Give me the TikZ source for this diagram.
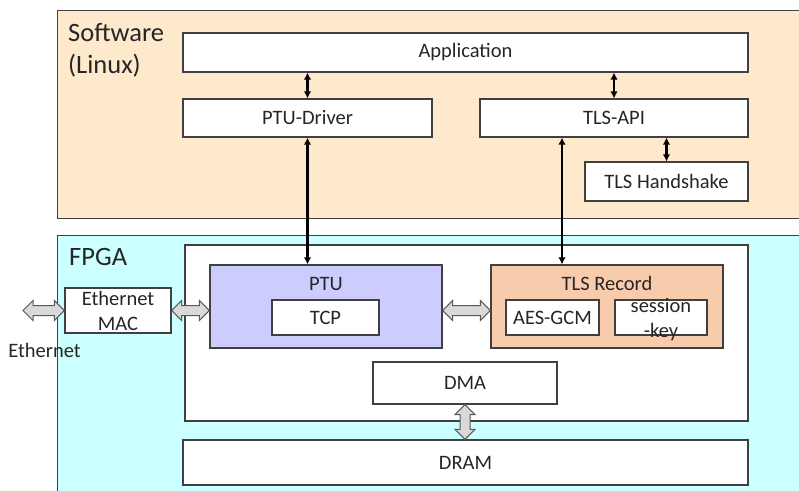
\documentclass[tikz,border=0pt]{standalone}
\usepackage{fontspec}
\setmainfont{Carlito}
\usetikzlibrary{arrows.meta,calc}
\definecolor{swfill}{HTML}{FEE9CC}
\definecolor{fpgafill}{HTML}{CCFFFF}
\definecolor{ptufill}{HTML}{CCCCFF}
\definecolor{tlsfill}{HTML}{F9CBAD}
\definecolor{boxline}{HTML}{404040}
\definecolor{fatfill}{HTML}{D9D9D9}
\definecolor{fatline}{HTML}{595959}
\definecolor{txt}{HTML}{262626}
\newcommand{\fatH}[2]{%
  \draw[fat] let \p1=(#1), \p2=(#2) in
   (\x1,\y1) -- (\x1+10pt,\y1+10pt) -- (\x1+10pt,\y1+5pt) -- (\x2-10pt,\y2+5pt)
   -- (\x2-10pt,\y2+10pt) -- (\x2,\y2) -- (\x2-10pt,\y2-10pt) -- (\x2-10pt,\y2-5pt)
   -- (\x1+10pt,\y1-5pt) -- (\x1+10pt,\y1-10pt) -- cycle;}
\newcommand{\fatV}[2]{%
  \draw[fat] let \p1=(#1), \p2=(#2) in
   (\x1,\y1) -- (\x1+10pt,\y1-10pt) -- (\x1+5pt,\y1-10pt) -- (\x2+5pt,\y2+10pt)
   -- (\x2+10pt,\y2+10pt) -- (\x2,\y2) -- (\x2-10pt,\y2+10pt) -- (\x2-5pt,\y2+10pt)
   -- (\x1-5pt,\y1-10pt) -- (\x1-10pt,\y1-10pt) -- cycle;}
\begin{document}
\begin{tikzpicture}[x=1pt,y=-1pt,
  every node/.style={text=txt},
  box/.style={draw=boxline, line width=1.2pt, fill=white, inner sep=0pt,
    font=\fontsize{20.5}{25}\selectfont, align=center},
  zone/.style={draw=boxline, line width=1.2pt, inner sep=0pt, anchor=north west},
  bigtxt/.style={font=\fontsize{26.5}{32}\selectfont, inner sep=0pt, align=left},
  midtxt/.style={font=\fontsize{20.5}{25}\selectfont, inner sep=0pt, align=center},
  conn/.style={line width=2.1pt, {Latex[length=7pt,width=7.5pt]}-{Latex[length=7pt,width=7.5pt]}},
  fat/.style={draw=fatline, fill=fatfill, line width=1pt, line join=miter}
]
\useasboundingbox (0,0) rectangle (799,490);
\fill[white] (0,0) rectangle (799,490);

% zones
\node[zone, fill=swfill, minimum width=770, minimum height=208] (sw) at (57,10) {};
\node[zone, fill=fpgafill, minimum width=770, minimum height=280] (fpga) at (57,235) {};
\node[bigtxt, anchor=base west] (swlbl) at (68,41) {Software};
\node[bigtxt, anchor=base west] (swlbl2) at (68,73) {(Linux)};
\node[bigtxt, anchor=base west] (fpgalbl) at (69,265) {FPGA};

% software boxes
\node[box, minimum width=565, minimum height=39] (app) at (465.5,52.5) {Application};
\node[box, minimum width=249, minimum height=38] (ptud) at (307.5,118) {PTU-Driver};
\node[box, minimum width=268, minimum height=38] (tlsapi) at (614,118) {TLS-API};
\node[box, minimum width=163, minimum height=39] (hs) at (666.5,181.5) {TLS Handshake};

% fpga boxes
\node[box, minimum width=563, minimum height=176] (inner) at (466.5,333) {};
\node[box, fill=ptufill, minimum width=232, minimum height=83] (ptu) at (326,306.5) {};
\node[midtxt, anchor=base] (ptulbl) at ($(ptu.north)+(0,26)$) {PTU};
\node[box, minimum width=107, minimum height=35] (tcp) at (325.5,317.5) {TCP};
\node[box, fill=tlsfill, minimum width=232, minimum height=83] (tlsrec) at (607,306.5) {};
\node[midtxt, anchor=base] (tlslbl) at ($(tlsrec.north)+(0,26)$) {TLS Record};
\node[box, minimum width=93, minimum height=35] (aes) at (552.5,317.5) {AES-GCM};
\node[box, minimum width=92, minimum height=35] (skey) at (661,317.5) {};
\node[midtxt] (skeytxt) at (661,320) {session\\-key};
\node[box, minimum width=184, minimum height=42] (dma) at (465,383) {DMA};
\node[box, minimum width=565, minimum height=45] (dram) at (465.5,462.5) {DRAM};
\node[box, minimum width=106, minimum height=45] (mac) at (118,310.5) {Ethernet\\MAC};
\node[midtxt, anchor=base] (ethlbl) at (44.5,357) {Ethernet};
\coordinate (ethL) at (23,310.5);
\coordinate (xa) at (562,0);

% thin connectors
\draw[conn] (app.south -| ptud.north) -- (ptud.north);
\draw[conn] (app.south -| tlsapi.north) -- (tlsapi.north);
\draw[conn] (tlsapi.south -| hs.north) -- (hs.north);
\draw[conn] (ptud.south) -- (ptud.south |- ptu.north);
\draw[conn] (tlsapi.south -| xa) -- (tlsrec.north -| xa);

% fat connectors
\fatH{ethL}{ethL -| mac.west}
\fatH{mac.east}{mac.east -| ptu.west}
\fatH{ptu.east |- mac.east}{mac.east -| tlsrec.west}
\fatV{dma.south}{dma.south |- dram.north}
\end{tikzpicture}
\end{document}
